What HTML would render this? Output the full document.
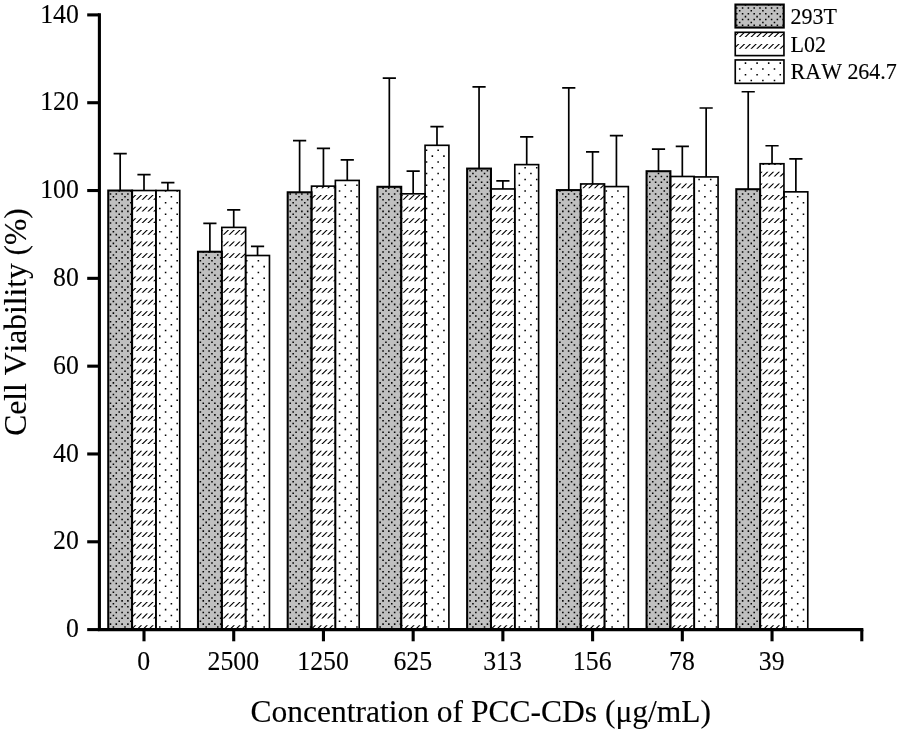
<!DOCTYPE html>
<html lang="en"><head><meta charset="utf-8"><title>Cell Viability</title>
<style>html,body{margin:0;padding:0;background:#fff}svg{display:block}text{font-kerning:none;stroke:#000;stroke-width:0.12px;font-family:"Liberation Serif","Times New Roman",serif;fill:#000}</style></head><body>
<svg width="898" height="732" viewBox="0 0 898 732">
<rect width="898" height="732" fill="#fff"/>
<defs>
<clipPath id="cg"><rect x="108.25" y="190.53" width="23.83" height="439.07"/><rect x="197.97" y="251.74" width="23.83" height="377.86"/><rect x="287.69" y="192.29" width="23.83" height="437.31"/><rect x="377.41" y="186.80" width="23.83" height="442.80"/><rect x="467.13" y="168.58" width="23.83" height="461.02"/><rect x="556.86" y="190.09" width="23.83" height="439.51"/><rect x="646.57" y="171.21" width="23.83" height="458.39"/><rect x="736.29" y="189.21" width="23.83" height="440.39"/><rect x="735.45" y="4.55" width="48.3" height="23.0"/></clipPath>
<clipPath id="ch"><rect x="132.08" y="190.53" width="23.83" height="439.07"/><rect x="221.81" y="227.41" width="23.83" height="402.19"/><rect x="311.52" y="186.14" width="23.83" height="443.46"/><rect x="401.24" y="193.82" width="23.83" height="435.78"/><rect x="490.96" y="188.95" width="23.83" height="440.65"/><rect x="580.69" y="183.94" width="23.83" height="445.66"/><rect x="670.40" y="176.48" width="23.83" height="453.12"/><rect x="760.12" y="163.75" width="23.83" height="465.85"/><rect x="735.25" y="32.3" width="48.7" height="23.3"/></clipPath>
<clipPath id="cs"><rect x="155.91" y="190.53" width="23.83" height="439.07"/><rect x="245.63" y="255.51" width="23.83" height="374.09"/><rect x="335.36" y="180.43" width="23.83" height="449.17"/><rect x="425.07" y="145.31" width="23.83" height="484.29"/><rect x="514.79" y="164.62" width="23.83" height="464.98"/><rect x="604.51" y="186.58" width="23.83" height="443.02"/><rect x="694.23" y="176.92" width="23.83" height="452.68"/><rect x="783.95" y="191.85" width="23.83" height="437.75"/><rect x="735.25" y="59.95" width="48.7" height="23.4"/></clipPath>
</defs>
<g clip-path="url(#cg)"><rect x="100" y="0" width="700" height="632" fill="#c0c0c0"/>
<path d="M5.34 2.09H898M11.14 2.09H898M14.04 4.99H898M5.34 7.90H898M11.14 7.90H898M5.34 13.71H898M11.14 13.71H898M8.24 10.81H898M14.04 16.62H898M5.34 19.53H898M11.14 19.53H898M5.34 25.34H898M11.14 25.34H898M8.24 22.43H898M14.04 28.25H898M5.34 31.15H898M11.14 31.15H898M5.34 36.97H898M11.14 36.97H898M8.24 34.06H898M14.04 39.87H898M5.34 42.78H898M11.14 42.78H898M5.34 48.59H898M11.14 48.59H898M8.24 45.69H898M14.04 51.50H898M5.34 54.41H898M11.14 54.41H898M5.34 60.22H898M11.14 60.22H898M8.24 57.31H898M14.04 63.13H898M5.34 66.04H898M11.14 66.04H898M5.34 71.85H898M11.14 71.85H898M8.24 68.94H898M14.04 74.76H898M5.34 77.66H898M11.14 77.66H898M5.34 83.48H898M11.14 83.48H898M8.24 80.57H898M14.04 86.38H898M5.34 89.29H898M11.14 89.29H898M5.34 95.10H898M11.14 95.10H898M8.24 92.20H898M14.04 98.01H898M5.34 100.92H898M11.14 100.92H898M5.34 106.73H898M11.14 106.73H898M8.24 103.82H898M14.04 109.64H898M5.34 112.54H898M11.14 112.54H898M5.34 118.36H898M11.14 118.36H898M8.24 115.45H898M14.04 121.26H898M5.34 124.17H898M11.14 124.17H898M5.34 129.98H898M11.14 129.98H898M8.24 127.08H898M14.04 132.89H898M5.34 135.80H898M11.14 135.80H898M5.34 141.61H898M11.14 141.61H898M8.24 138.70H898M14.04 144.52H898M5.34 147.42H898M11.14 147.42H898M5.34 153.24H898M11.14 153.24H898M8.24 150.33H898M14.04 156.14H898M5.34 159.05H898M11.14 159.05H898M5.34 164.86H898M11.14 164.86H898M8.24 161.96H898M14.04 167.77H898M5.34 170.68H898M11.14 170.68H898M5.34 176.49H898M11.14 176.49H898M8.24 173.58H898M14.04 179.40H898M5.34 182.31H898M11.14 182.31H898M5.34 188.12H898M11.14 188.12H898M8.24 185.21H898M14.04 191.03H898M5.34 193.93H898M11.14 193.93H898M5.34 199.75H898M11.14 199.75H898M8.24 196.84H898M14.04 202.65H898M5.34 205.56H898M11.14 205.56H898M5.34 211.37H898M11.14 211.37H898M8.24 208.47H898M14.04 214.28H898M5.34 217.19H898M11.14 217.19H898M5.34 223.00H898M11.14 223.00H898M8.24 220.09H898M14.04 225.91H898M5.34 228.81H898M11.14 228.81H898M5.34 234.63H898M11.14 234.63H898M8.24 231.72H898M14.04 237.53H898M5.34 240.44H898M11.14 240.44H898M5.34 246.25H898M11.14 246.25H898M8.24 243.35H898M14.04 249.16H898M5.34 252.07H898M11.14 252.07H898M5.34 257.88H898M11.14 257.88H898M8.24 254.97H898M14.04 260.79H898M5.34 263.69H898M11.14 263.69H898M5.34 269.51H898M11.14 269.51H898M8.24 266.60H898M14.04 272.41H898M5.34 275.32H898M11.14 275.32H898M5.34 281.13H898M11.14 281.13H898M8.24 278.23H898M14.04 284.04H898M5.34 286.95H898M11.14 286.95H898M5.34 292.76H898M11.14 292.76H898M8.24 289.85H898M14.04 295.67H898M5.34 298.57H898M11.14 298.57H898M5.34 304.39H898M11.14 304.39H898M8.24 301.48H898M14.04 307.30H898M5.34 310.20H898M11.14 310.20H898M5.34 316.02H898M11.14 316.02H898M8.24 313.11H898M14.04 318.92H898M5.34 321.83H898M11.14 321.83H898M5.34 327.64H898M11.14 327.64H898M8.24 324.74H898M14.04 330.55H898M5.34 333.46H898M11.14 333.46H898M5.34 339.27H898M11.14 339.27H898M8.24 336.36H898M14.04 342.18H898M5.34 345.08H898M11.14 345.08H898M5.34 350.90H898M11.14 350.90H898M8.24 347.99H898M14.04 353.80H898M5.34 356.71H898M11.14 356.71H898M5.34 362.52H898M11.14 362.52H898M8.24 359.62H898M14.04 365.43H898M5.34 368.34H898M11.14 368.34H898M5.34 374.15H898M11.14 374.15H898M8.24 371.24H898M14.04 377.06H898M5.34 379.96H898M11.14 379.96H898M5.34 385.78H898M11.14 385.78H898M8.24 382.87H898M14.04 388.68H898M5.34 391.59H898M11.14 391.59H898M5.34 397.40H898M11.14 397.40H898M8.24 394.50H898M14.04 400.31H898M5.34 403.22H898M11.14 403.22H898M5.34 409.03H898M11.14 409.03H898M8.24 406.12H898M14.04 411.94H898M5.34 414.85H898M11.14 414.85H898M5.34 420.66H898M11.14 420.66H898M8.24 417.75H898M14.04 423.57H898M5.34 426.47H898M11.14 426.47H898M5.34 432.29H898M11.14 432.29H898M8.24 429.38H898M14.04 435.19H898M5.34 438.10H898M11.14 438.10H898M5.34 443.91H898M11.14 443.91H898M8.24 441.01H898M14.04 446.82H898M5.34 449.73H898M11.14 449.73H898M5.34 455.54H898M11.14 455.54H898M8.24 452.63H898M14.04 458.45H898M5.34 461.35H898M11.14 461.35H898M5.34 467.17H898M11.14 467.17H898M8.24 464.26H898M14.04 470.07H898M5.34 472.98H898M11.14 472.98H898M5.34 478.79H898M11.14 478.79H898M8.24 475.89H898M14.04 481.70H898M5.34 484.61H898M11.14 484.61H898M5.34 490.42H898M11.14 490.42H898M8.24 487.51H898M14.04 493.33H898M5.34 496.23H898M11.14 496.23H898M5.34 502.05H898M11.14 502.05H898M8.24 499.14H898M14.04 504.95H898M5.34 507.86H898M11.14 507.86H898M5.34 513.67H898M11.14 513.67H898M8.24 510.77H898M14.04 516.58H898M5.34 519.49H898M11.14 519.49H898M5.34 525.30H898M11.14 525.30H898M8.24 522.39H898M14.04 528.21H898M5.34 531.12H898M11.14 531.12H898M5.34 536.93H898M11.14 536.93H898M8.24 534.02H898M14.04 539.84H898M5.34 542.74H898M11.14 542.74H898M5.34 548.56H898M11.14 548.56H898M8.24 545.65H898M14.04 551.46H898M5.34 554.37H898M11.14 554.37H898M5.34 560.18H898M11.14 560.18H898M8.24 557.28H898M14.04 563.09H898M5.34 566.00H898M11.14 566.00H898M5.34 571.81H898M11.14 571.81H898M8.24 568.90H898M14.04 574.72H898M5.34 577.62H898M11.14 577.62H898M5.34 583.44H898M11.14 583.44H898M8.24 580.53H898M14.04 586.34H898M5.34 589.25H898M11.14 589.25H898M5.34 595.06H898M11.14 595.06H898M8.24 592.16H898M14.04 597.97H898M5.34 600.88H898M11.14 600.88H898M5.34 606.69H898M11.14 606.69H898M8.24 603.78H898M14.04 609.60H898M5.34 612.50H898M11.14 612.50H898M5.34 618.32H898M11.14 618.32H898M8.24 615.41H898M14.04 621.22H898M5.34 624.13H898M11.14 624.13H898M5.34 629.94H898M11.14 629.94H898M8.24 627.04H898" stroke="#000" stroke-width="1.55" stroke-dasharray="1.55 10.048" fill="none"/></g>
<g clip-path="url(#ch)"><path transform="skewX(-45.591)" d="M91.56 -0.21H899.8M103.43 11.42H911.7M115.30 23.04H923.5M127.17 34.67H935.4M139.04 46.30H947.3M150.90 57.93H959.1M162.77 69.55H971.0M174.64 81.18H982.9M186.51 92.81H994.7M198.38 104.43H1006.6M210.25 116.06H1018.5M222.12 127.69H1030.3M233.99 139.31H1042.2M245.86 150.94H1054.1M257.73 162.57H1066.0M269.60 174.20H1077.8M281.47 185.82H1089.7M293.34 197.45H1101.6M305.20 209.08H1113.4M317.07 220.70H1125.3M328.94 232.33H1137.2M340.81 243.96H1149.0M352.68 255.58H1160.9M364.55 267.21H1172.8M376.42 278.84H1184.6M388.29 290.47H1196.5M400.16 302.09H1208.4M412.03 313.72H1220.3M423.90 325.35H1232.1M435.77 336.97H1244.0M447.64 348.60H1255.9M459.50 360.23H1267.7M471.37 371.86H1279.6M483.24 383.48H1291.5M495.11 395.11H1303.3M506.98 406.74H1315.2M518.85 418.36H1327.1M530.72 429.99H1338.9M542.59 441.62H1350.8M554.46 453.24H1362.7M566.33 464.87H1374.6M578.20 476.50H1386.4M590.07 488.12H1398.3M601.94 499.75H1410.2M613.80 511.38H1422.0M625.67 523.01H1433.9M637.54 534.63H1445.8M649.41 546.26H1457.6M661.28 557.89H1469.5M673.15 569.51H1481.4M685.02 581.14H1493.2M696.89 592.77H1505.1M708.76 604.39H1517.0M720.63 616.02H1528.9M732.50 627.65H1540.7" stroke="#000" stroke-width="4.8" stroke-dasharray="1.572 4.227" fill="none"/></g>
<g clip-path="url(#cs)"><path d="M14.04 4.99H898M8.24 10.81H898M14.04 16.62H898M8.24 22.43H898M14.04 28.25H898M8.24 34.06H898M14.04 39.87H898M8.24 45.69H898M14.04 51.50H898M8.24 57.31H898M14.04 63.13H898M8.24 68.94H898M14.04 74.76H898M8.24 80.57H898M14.04 86.38H898M8.24 92.20H898M14.04 98.01H898M8.24 103.82H898M14.04 109.64H898M8.24 115.45H898M14.04 121.26H898M8.24 127.08H898M14.04 132.89H898M8.24 138.70H898M14.04 144.52H898M8.24 150.33H898M14.04 156.14H898M8.24 161.96H898M14.04 167.77H898M8.24 173.58H898M14.04 179.40H898M8.24 185.21H898M14.04 191.03H898M8.24 196.84H898M14.04 202.65H898M8.24 208.47H898M14.04 214.28H898M8.24 220.09H898M14.04 225.91H898M8.24 231.72H898M14.04 237.53H898M8.24 243.35H898M14.04 249.16H898M8.24 254.97H898M14.04 260.79H898M8.24 266.60H898M14.04 272.41H898M8.24 278.23H898M14.04 284.04H898M8.24 289.85H898M14.04 295.67H898M8.24 301.48H898M14.04 307.30H898M8.24 313.11H898M14.04 318.92H898M8.24 324.74H898M14.04 330.55H898M8.24 336.36H898M14.04 342.18H898M8.24 347.99H898M14.04 353.80H898M8.24 359.62H898M14.04 365.43H898M8.24 371.24H898M14.04 377.06H898M8.24 382.87H898M14.04 388.68H898M8.24 394.50H898M14.04 400.31H898M8.24 406.12H898M14.04 411.94H898M8.24 417.75H898M14.04 423.57H898M8.24 429.38H898M14.04 435.19H898M8.24 441.01H898M14.04 446.82H898M8.24 452.63H898M14.04 458.45H898M8.24 464.26H898M14.04 470.07H898M8.24 475.89H898M14.04 481.70H898M8.24 487.51H898M14.04 493.33H898M8.24 499.14H898M14.04 504.95H898M8.24 510.77H898M14.04 516.58H898M8.24 522.39H898M14.04 528.21H898M8.24 534.02H898M14.04 539.84H898M8.24 545.65H898M14.04 551.46H898M8.24 557.28H898M14.04 563.09H898M8.24 568.90H898M14.04 574.72H898M8.24 580.53H898M14.04 586.34H898M8.24 592.16H898M14.04 597.97H898M8.24 603.78H898M14.04 609.60H898M8.24 615.41H898M14.04 621.22H898M8.24 627.04H898" stroke="#000" stroke-width="1.55" stroke-dasharray="1.55 10.048" fill="none"/></g>
<g stroke="#000" stroke-linejoin="miter" fill="none">
<rect x="108.25" y="190.53" width="23.83" height="439.07" stroke-width="2.05"/>
<rect x="132.08" y="190.53" width="23.83" height="439.07" stroke-width="1.65"/>
<rect x="155.91" y="190.53" width="23.83" height="439.07" stroke-width="1.65"/>
<rect x="197.97" y="251.74" width="23.83" height="377.86" stroke-width="2.05"/>
<rect x="221.81" y="227.41" width="23.83" height="402.19" stroke-width="1.65"/>
<rect x="245.63" y="255.51" width="23.83" height="374.09" stroke-width="1.65"/>
<rect x="287.69" y="192.29" width="23.83" height="437.31" stroke-width="2.05"/>
<rect x="311.52" y="186.14" width="23.83" height="443.46" stroke-width="1.65"/>
<rect x="335.36" y="180.43" width="23.83" height="449.17" stroke-width="1.65"/>
<rect x="377.41" y="186.80" width="23.83" height="442.80" stroke-width="2.05"/>
<rect x="401.24" y="193.82" width="23.83" height="435.78" stroke-width="1.65"/>
<rect x="425.07" y="145.31" width="23.83" height="484.29" stroke-width="1.65"/>
<rect x="467.13" y="168.58" width="23.83" height="461.02" stroke-width="2.05"/>
<rect x="490.96" y="188.95" width="23.83" height="440.65" stroke-width="1.65"/>
<rect x="514.79" y="164.62" width="23.83" height="464.98" stroke-width="1.65"/>
<rect x="556.86" y="190.09" width="23.83" height="439.51" stroke-width="2.05"/>
<rect x="580.69" y="183.94" width="23.83" height="445.66" stroke-width="1.65"/>
<rect x="604.51" y="186.58" width="23.83" height="443.02" stroke-width="1.65"/>
<rect x="646.57" y="171.21" width="23.83" height="458.39" stroke-width="2.05"/>
<rect x="670.40" y="176.48" width="23.83" height="453.12" stroke-width="1.65"/>
<rect x="694.23" y="176.92" width="23.83" height="452.68" stroke-width="1.65"/>
<rect x="736.29" y="189.21" width="23.83" height="440.39" stroke-width="2.05"/>
<rect x="760.12" y="163.75" width="23.83" height="465.85" stroke-width="1.65"/>
<rect x="783.95" y="191.85" width="23.83" height="437.75" stroke-width="1.65"/>
</g>
<g stroke="#000" stroke-width="1.7" fill="none">
<path d="M120.17 190.53V153.65M113.57 153.65H126.77"/>
<path d="M144.00 190.53V174.72M137.40 174.72H150.60"/>
<path d="M167.83 190.53V182.63M161.23 182.63H174.43"/>
<path d="M209.89 251.74V223.46M203.29 223.46H216.49"/>
<path d="M233.72 227.41V209.85M227.12 209.85H240.32"/>
<path d="M257.55 255.51V246.29M250.95 246.29H264.15"/>
<path d="M299.61 192.29V140.70M293.01 140.70H306.21"/>
<path d="M323.44 186.14V148.38M316.84 148.38H330.04"/>
<path d="M347.27 180.43V159.80M340.67 159.80H353.87"/>
<path d="M389.33 186.80V78.13M382.73 78.13H395.93"/>
<path d="M413.16 193.82V171.21M406.56 171.21H419.76"/>
<path d="M436.99 145.31V126.65M430.39 126.65H443.59"/>
<path d="M479.05 168.58V86.91M472.45 86.91H485.65"/>
<path d="M502.88 188.95V180.87M496.28 180.87H509.48"/>
<path d="M526.71 164.62V136.96M520.11 136.96H533.31"/>
<path d="M568.77 190.09V87.79M562.17 87.79H575.37"/>
<path d="M592.60 183.94V151.89M586.00 151.89H599.20"/>
<path d="M616.43 186.58V135.65M609.83 135.65H623.03"/>
<path d="M658.49 171.21V149.04M651.89 149.04H665.09"/>
<path d="M682.32 176.48V146.32M675.72 146.32H688.92"/>
<path d="M706.15 176.92V107.98M699.55 107.98H712.75"/>
<path d="M748.21 189.21V91.74M741.61 91.74H754.81"/>
<path d="M772.04 163.75V145.74M765.44 145.74H778.64"/>
<path d="M795.87 191.85V158.92M789.27 158.92H802.47"/>
</g>
<g stroke="#000" stroke-width="3.1" fill="none" stroke-linecap="butt">
<path d="M99.4 13.35V629.60"/>
<path d="M97.85 629.6H863.35"/>
<path d="M87.2 629.60H99.4"/>
<path d="M87.2 541.79H99.4"/>
<path d="M87.2 453.97H99.4"/>
<path d="M87.2 366.16H99.4"/>
<path d="M87.2 278.34H99.4"/>
<path d="M87.2 190.53H99.4"/>
<path d="M87.2 102.72H99.4"/>
<path d="M87.2 14.90H99.4"/>
<path d="M144.00 629.6V641.3"/>
<path d="M233.72 629.6V641.3"/>
<path d="M323.44 629.6V641.3"/>
<path d="M413.16 629.6V641.3"/>
<path d="M502.88 629.6V641.3"/>
<path d="M592.60 629.6V641.3"/>
<path d="M682.32 629.6V641.3"/>
<path d="M772.04 629.6V641.3"/>
<path d="M861.80 629.6V641.3"/>
</g>
<g font-size="25.8" text-anchor="end">
<text transform="translate(78.9 637.30) scale(1 1.035)">0</text>
<text transform="translate(78.9 549.49) scale(1 1.035)">20</text>
<text transform="translate(78.9 461.67) scale(1 1.035)">40</text>
<text transform="translate(78.9 373.86) scale(1 1.035)">60</text>
<text transform="translate(78.9 286.04) scale(1 1.035)">80</text>
<text transform="translate(78.9 198.23) scale(1 1.035)">100</text>
<text transform="translate(78.9 110.42) scale(1 1.035)">120</text>
<text transform="translate(78.9 22.60) scale(1 1.035)">140</text>
</g>
<g font-size="25.8" text-anchor="middle">
<text transform="translate(143.60 669.6) scale(1 1.035)">0</text>
<text transform="translate(233.32 669.6) scale(1 1.035)">2500</text>
<text transform="translate(323.04 669.6) scale(1 1.035)">1250</text>
<text transform="translate(412.76 669.6) scale(1 1.035)">625</text>
<text transform="translate(502.48 669.6) scale(1 1.035)">313</text>
<text transform="translate(592.20 669.6) scale(1 1.035)">156</text>
<text transform="translate(681.92 669.6) scale(1 1.035)">78</text>
<text transform="translate(771.64 669.6) scale(1 1.035)">39</text>
</g>
<text x="480.8" y="722.2" font-size="31.5" text-anchor="middle">Concentration of PCC-CDs (μg/mL)</text>
<text transform="translate(25.9 322.0) rotate(-90)" font-size="31.5" text-anchor="middle">Cell Viability (%)</text>
<rect x="735.45" y="4.55" width="48.3" height="23.0" fill="none" stroke="#000" stroke-width="2.1"/>
<text transform="translate(790.6 23.85) scale(1 1.07)" font-size="22">293T</text>
<rect x="735.25" y="32.3" width="48.7" height="23.3" fill="none" stroke="#000" stroke-width="1.65"/>
<text transform="translate(790.6 51.65) scale(1 1.07)" font-size="22">L02</text>
<rect x="735.25" y="59.95" width="48.7" height="23.4" fill="none" stroke="#000" stroke-width="1.65"/>
<text transform="translate(790.6 79.45) scale(1 1.07)" font-size="22">RAW 264.7</text>
</svg></body></html>
